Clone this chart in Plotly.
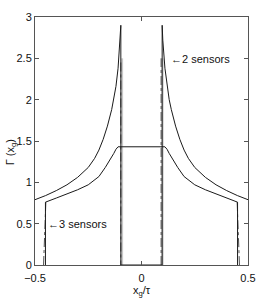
import plotly.graph_objects as go

# ---- data ----
# 2 sensors (solid, outer curve with spikes near +-0.1)
x_two = [-0.5, -0.45, -0.40, -0.35, -0.30, -0.25, -0.22, -0.20, -0.18, -0.16, -0.14, -0.13, -0.12, -0.11, -0.10, -0.097,
         -0.097, 0.097,
         0.097, 0.10, 0.11, 0.12, 0.13, 0.14, 0.16, 0.18, 0.20, 0.22, 0.25, 0.30, 0.35, 0.40, 0.45, 0.5]
y_two = [0.79, 0.84, 0.90, 0.97, 1.06, 1.18, 1.29, 1.39, 1.52, 1.68, 1.88, 2.00, 2.16, 2.38, 2.72, 2.90,
         0.0, 0.0,
         2.90, 2.72, 2.38, 2.16, 2.00, 1.88, 1.68, 1.52, 1.39, 1.29, 1.18, 1.06, 0.97, 0.90, 0.84, 0.79]

# 3 sensors (solid, inner curve with flat top)
x_three = [-0.451, -0.451, -0.40, -0.35, -0.30, -0.25, -0.20, -0.17, -0.15, -0.13, -0.12, -0.11,
           0.11, 0.12, 0.13, 0.15, 0.17, 0.20, 0.25, 0.30, 0.35, 0.40, 0.451, 0.451]
y_three = [0.0, 0.76, 0.81, 0.86, 0.91, 0.97, 1.07, 1.18, 1.26, 1.35, 1.40, 1.43,
           1.43, 1.40, 1.35, 1.26, 1.18, 1.07, 0.97, 0.91, 0.86, 0.81, 0.76, 0.0]

# dash-dot estimates (only visible where they leave the solid curves)
x_two_dd = [-0.097, -0.097, None, 0.092, 0.092]
y_two_dd = [2.45, 0.0, None, 0.0, 2.50]
x_three_dd = [-0.46, -0.449, None, 0.449, 0.46]
y_three_dd = [0.0, 0.76, None, 0.76, 0.0]

# light grey verticals
x_grey = [-0.091, -0.091, None, 0.099, 0.099]
y_grey = [2.50, 0.0, None, 0.0, 2.50]

x_ticks = [-0.5, 0, 0.5]
y_ticks = [0, 0.5, 1, 1.5, 2, 2.5, 3]

fig = go.Figure()
fig.add_trace(go.Scatter(x=x_grey, y=y_grey, mode="lines", line=dict(color="#c8c8c8", width=2), hoverinfo="skip"))
fig.add_trace(go.Scatter(x=x_two_dd, y=y_two_dd, mode="lines", line=dict(color="#555555", width=1, dash="dashdot"), hoverinfo="skip"))
fig.add_trace(go.Scatter(x=x_three_dd, y=y_three_dd, mode="lines", line=dict(color="#555555", width=1, dash="dashdot"), hoverinfo="skip"))
fig.add_trace(go.Scatter(x=x_two, y=y_two, mode="lines", line=dict(color="#1a1a1a", width=1), hoverinfo="skip"))
fig.add_trace(go.Scatter(x=x_three, y=y_three, mode="lines", line=dict(color="#1a1a1a", width=1), hoverinfo="skip"))

font = dict(family="Liberation Sans, Arial, sans-serif", size=11, color="#111111")

fig.update_layout(
    width=267, height=302,
    margin=dict(l=35, r=11, t=11, b=36.5),
    paper_bgcolor="white", plot_bgcolor="white",
    showlegend=False,
    font=font,
    xaxis=dict(range=[-0.5, 0.5], tickvals=x_ticks, ticktext=["\u22120.5", "0", "0.5"],
               ticks="inside", ticklen=4, tickcolor="#555555", showline=True, linecolor="#555555",
               linewidth=1, mirror="allticks", showgrid=False, zeroline=False, ticklabelstandoff=3),
    yaxis=dict(range=[0, 3], tickvals=y_ticks, ticktext=["0", "0.5", "1", "1.5", "2", "2.5", "3"],
               ticks="inside", ticklen=4, tickcolor="#555555", showline=True, linecolor="#555555",
               linewidth=1, mirror="allticks", showgrid=False, zeroline=False),
    annotations=[
        dict(text="\u21902 sensors", x=0.128, y=2.49, xref="x", yref="y", xanchor="left", yanchor="middle",
             showarrow=False, font=font),
        dict(text="\u21903 sensors", x=-0.449, y=0.49, xref="x", yref="y", xanchor="left", yanchor="middle",
             showarrow=False, font=font),
        dict(text="x<sub>g</sub>/\u03c4", x=0.5, y=-0.104, xref="paper", yref="paper", xanchor="center",
             yanchor="middle", showarrow=False, font=font),
        dict(text="\u0393 (x<sub>g</sub>)", x=-0.113, y=0.454, xref="paper", yref="paper", xanchor="center",
             yanchor="middle", textangle=-90, showarrow=False, font=font),
    ],
)

fig.write_html("out.html", config={"displayModeBar": False},
               post_script="document.body.style.margin='0';document.body.style.overflow='hidden';")
